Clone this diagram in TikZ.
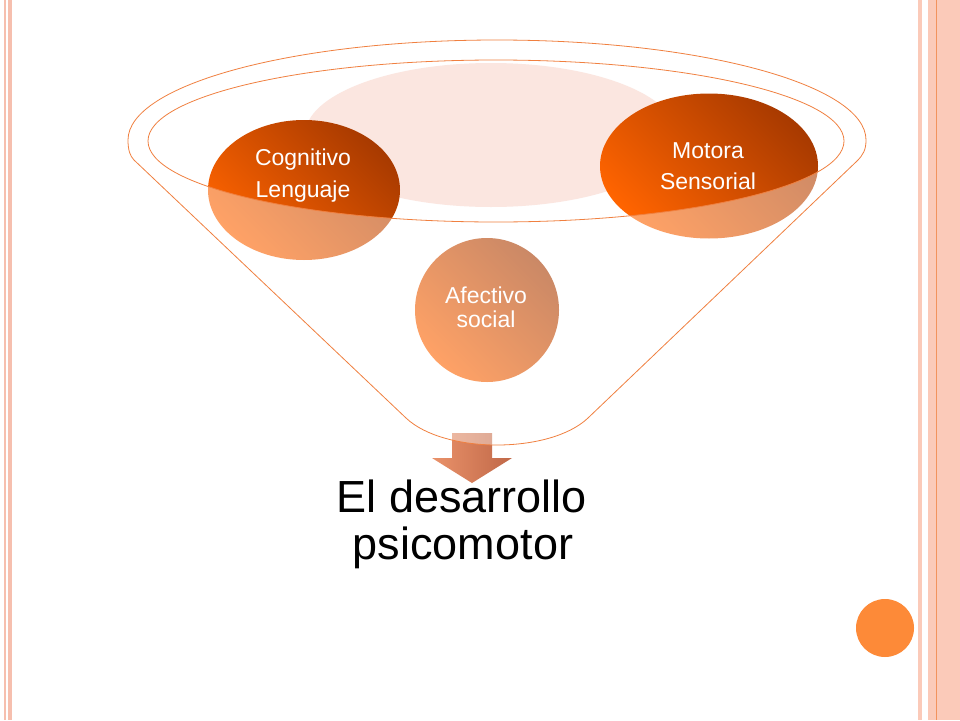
\documentclass[tikz,border=0pt]{standalone}
\usepackage{fontspec}
\setmainfont{Liberation Sans}
\usetikzlibrary{shapes.geometric}
\definecolor{bordpink}{HTML}{FBCAB9}
\definecolor{linepink}{HTML}{F6BFAE}
\definecolor{dkor}{HTML}{A83A00}
\definecolor{bror}{HTML}{FF6400}
\definecolor{funline}{HTML}{F08040}
\definecolor{palepink}{HTML}{FBE6E0}
\definecolor{dotor}{HTML}{FD8A38}
\definecolor{arrL}{HTML}{EA926A}
\definecolor{arrR}{HTML}{C06848}
\tikzset{
  funnelpath/.style={insert path={
    (128,140) arc[start angle=180, end angle=360, x radius=369, y radius=100]
    .. controls (866,150) and (863,155) .. (857,161)
    -- (588,418)
    .. controls (550,454) and (444,454) .. (406,418)
    -- (134,160)
    .. controls (130,156) and (128,150) .. (128,140) -- cycle}}
}
\begin{document}
\begin{tikzpicture}[x=1pt,y=-1pt,
  blob/.style={ellipse, draw=none, inner sep=0pt, top color=dkor, bottom color=bror, shading angle=-45},
  lbl/.style={anchor=base, text=white, font=\fontsize{23}{23}\selectfont, inner sep=0pt},
  big/.style={anchor=base, text=black, font=\fontsize{45}{45}\selectfont, inner sep=0pt},
  outl/.style={draw=funline, line width=0.8pt}]
\useasboundingbox (0,0) rectangle (960,720);
\fill[white] (0,0) rectangle (960,720);
% left border
\fill[linepink] (4.3,0) rectangle (6,720);
\fill[linepink] (7.5,0) rectangle (11.5,720);
% right border
\fill[bordpink] (917.5,0) rectangle (922,720);
\fill[bordpink] (928,0) rectangle (960,720);
\fill[funline!85] (935.7,0) rectangle (936.9,720);
% shapes
\node[ellipse, fill=palepink, minimum width=372pt, minimum height=144pt, inner sep=0pt] (pink) at (491,135) {};
\node[blob, circle, minimum size=144pt] (afe) at (487,310) {};
\node[blob, minimum width=192pt, minimum height=140pt] (cog) at (304,190) {};
\node[blob, minimum width=218pt, minimum height=145pt] (mot) at (709,166) {};
% arrow
\shade[left color=arrL, right color=arrR] (452,433) -- (492,433) -- (492,458) -- (512,458) -- (472,483) -- (432,458) -- (452,458) -- cycle;
% funnel overlay and outlines
\fill[white, fill opacity=0.4, even odd rule, funnelpath] (496,141) ellipse [x radius=348, y radius=81];
\draw[outl, funnelpath];
\draw[outl] (496,141) ellipse [x radius=348, y radius=81];
% labels
\node[lbl] (cogA) at (303,165) {Cognitivo};
\node[lbl] (cogB) at (303,197) {Lenguaje};
\node[lbl] (motA) at (708,158) {Motora};
\node[lbl] (motB) at (708,189) {Sensorial};
\node[lbl] (afeA) at (486,303) {Afectivo};
\node[lbl] (afeB) at (486,327) {social};
\node[big] (t1) at (462,512) {El desarrollo};
\node[big] (t2) at (463,559) {psicomotor};
% dot
\node[circle, fill=dotor, minimum size=58pt, inner sep=0pt] (dot) at (885,628) {};
\end{tikzpicture}
\end{document}
